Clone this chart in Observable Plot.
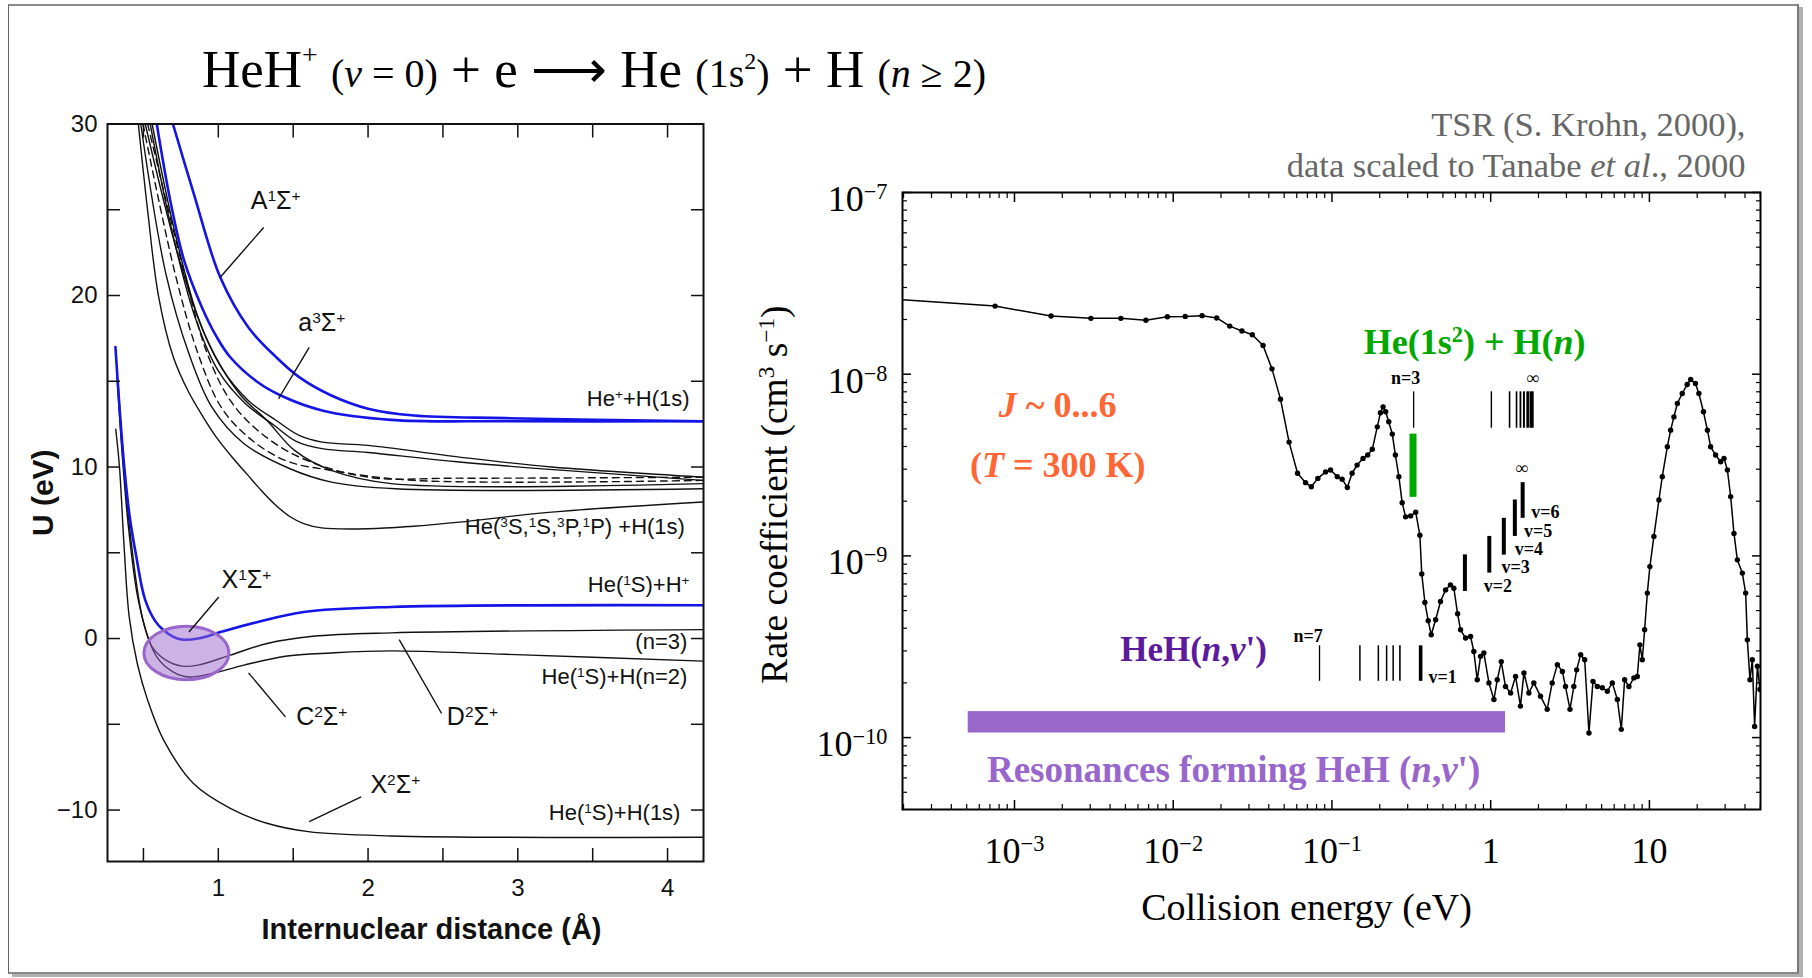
<!DOCTYPE html>
<html>
<head>
<meta charset="utf-8">
<script src="https://cdn.jsdelivr.net/npm/d3@7"></script>
<script src="https://cdn.jsdelivr.net/npm/@observablehq/plot@0.6"></script>
<style>
  html, body { margin: 0; padding: 0; background: #fff; }
  #page { position: relative; width: 1812px; height: 978px; overflow: hidden; background: #fff; }
  #box { position: absolute; left: 8px; top: 4px; width: 1788px; height: 966px;
         border-left: 1.5px solid #666; border-top: 2px solid #8a8a8a; border-right: 2px solid #777; border-bottom: 2px solid #888;
         box-shadow: 4px 3px 0 #b0b0b0; }
  #left { position: absolute; left: 0; top: 0; width: 740px; height: 978px; }
  #right { position: absolute; left: 740px; top: 0; width: 1072px; height: 978px; }
  #title { position: absolute; left: 202px; top: 43px; font-family: 'Liberation Serif', 'Times New Roman', serif;
           font-size: 53px; line-height: 53px; white-space: nowrap; color: #000; }
  #title .s { font-size: 40px; }
  #title sup { font-size: 0.52em; vertical-align: 0.85em; line-height: 0; }
  #title .s sup { font-size: 0.6em; vertical-align: 0.75em; }
</style>
</head>
<body>
<div id="page">
  <div id="box"></div>
  <div id="left"></div>
  <div id="right"></div>
  <div id="title">HeH<sup>+</sup> <span class="s">(<i>v</i> = 0)</span> + e ⟶ He <span class="s">(1s<sup>2</sup>)</span> + H <span class="s">(<i>n</i> ≥ 2)</span></div>
</div>
<script>
// ================= LEFT PANEL DATA: potential curves [r (Å), U (eV)] =================
const curveA1Sigma = [[0.697,30],[0.834,26.0],[1.013,21.06],[1.2,18.15],[1.387,16.4],[1.54,15.24],[1.755,14.17],[2.0,13.4],[2.307,13.0],[2.92,12.85],[4.24,12.67]];
const curvea3Sigma = [[0.589,30],[0.68,25.5],[0.773,22.0],[0.896,19.2],[0.988,17.6],[1.08,16.4],[1.264,14.94],[1.417,14.17],[1.693,13.3],[2.154,12.75],[2.92,12.67],[4.24,12.67]];
const curveB1 = [[0.558,30],[0.712,23.6],[0.865,18.73],[1.019,15.82],[1.2,13.88],[1.387,12.71],[1.54,11.84],[1.693,11.45],[2.0,11.26],[2.61,10.58],[3.227,10.0],[4.24,9.41]];
const curveB2 = [[0.545,30],[0.70,23.4],[0.85,18.6],[1.0,15.6],[1.18,13.7],[1.37,12.45],[1.52,11.5],[1.693,11.07],[2.0,10.85],[2.61,10.29],[4.24,9.22]];
const curveB3 = [[0.482,30],[0.65,21.26],[0.804,16.6],[0.957,13.49],[1.172,11.36],[1.479,9.9],[1.755,9.12],[2.184,8.73],[4.24,8.73]];
const curveB4 = [[0.512,30],[0.742,22.03],[0.927,17.37],[1.141,14.27],[1.325,12.71],[1.509,10.97],[1.755,9.8],[2.154,9.03],[4.24,9.03]];
const curveB5 = [[0.466,30],[0.53,24.8],[0.60,20.0],[0.70,16.4],[0.80,14.4],[0.90,12.9],[0.99,11.7],[1.09,10.6],[1.19,9.6],[1.29,8.6],[1.38,7.8],[1.48,7.1],[1.57,6.7],[1.69,6.45],[2.0,6.4],[2.3,6.55],[2.61,6.79],[3.227,7.37],[4.24,7.96]];
const curveD1 = [[0.528,30],[0.774,21.26],[0.927,16.6],[1.08,13.88],[1.264,12.13],[1.54,10.58],[2.0,9.41],[2.61,9.35],[4.24,9.41]];
const curveD2 = [[0.497,30],[0.712,21.26],[0.865,16.6],[1.019,13.49],[1.2,11.74],[1.448,10.38],[1.755,9.8],[2.307,9.22],[4.24,9.22]];
const curveX1Sigma = [[0.313,17.0],[0.34,13.5],[0.372,10.0],[0.41,7.0],[0.45,4.9],[0.51,2.3],[0.58,1.0],[0.635,0.48],[0.70,0.1],[0.758,-0.06],[0.865,0.0],[1.019,0.39],[1.264,0.97],[1.571,1.55],[2.154,1.84],[4.24,1.94]];
const curveD2Sigma = [[0.323,15.4],[0.36,10.5],[0.40,6.5],[0.466,2.23],[0.558,-0.49],[0.65,-1.26],[0.758,-1.61],[0.865,-1.55],[1.08,-0.97],[1.325,-0.29],[1.632,0.13],[2.154,0.33],[4.24,0.52]];
const curveC2Sigma = [[0.33,15.0],[0.37,10.0],[0.42,5.5],[0.497,1.07],[0.589,-1.07],[0.697,-1.94],[0.804,-2.24],[0.957,-2.04],[1.172,-1.55],[1.448,-1.03],[1.755,-0.84],[2.154,-0.72],[2.92,-0.92],[4.24,-1.32]];
const curveX2Sigma = [[0.315,12.2],[0.34,10.0],[0.37,5.5],[0.405,1.26],[0.46,-1.5],[0.528,-3.59],[0.635,-5.92],[0.834,-8.45],[1.08,-9.9],[1.325,-10.77],[1.601,-11.26],[2.154,-11.51],[4.24,-11.59]];

const stateLabels = ["A^{1}Σ^{+}", "a^{3}Σ^{+}", "X^{1}Σ^{+}", "C^{2}Σ^{+}", "D^{2}Σ^{+}", "X^{2}Σ^{+}"];
const stateLabelR = [1.383, 1.691, 1.188, 1.691, 2.697, 2.182];
const stateLabelU = [25.5, 18.4, 3.4, -4.6, -4.6, -8.55];
const leaderR1 = [1.303, 1.607, 1.003, 1.448, 2.491, 1.954];
const leaderU1 = [23.97, 16.98, 2.42, -4.57, -4.37, -9.23];
const leaderR2 = [1.013, 1.402, 0.804, 1.202, 2.208, 1.607];
const leaderU2 = [21.06, 13.98, 0.38, -2.0, -0.06, -10.68];

const limitLabels = ["He^{+}+H(1s)", "He(^{3}S,^{1}S,^{3}P,^{1}P) +H(1s)", "He(^{1}S)+H^{+}", "(n=3)", "He(^{1}S)+H(n=2)", "He(^{1}S)+H(1s)"];
const limitLabelR = [4.147, 4.116, 4.147, 4.132, 4.132, 4.086];
const limitLabelU = [13.98, 6.5, 3.10, -0.2, -2.24, -10.19];

const ellipseR = 0.787, ellipseU = -0.84;

const leftXTicks = [0.5, 1, 1.5, 2, 2.5, 3, 3.5, 4];
const leftXLabelTicks = [1, 2, 3, 4];
const leftXLabels = ["1", "2", "3", "4"];
const leftYTicks = [-10, -5, 0, 5, 10, 15, 20, 25, 30];
const leftYLabelTicks = [-10, 0, 10, 20, 30];
const leftYLabels = ["−10", "0", "10", "20", "30"];

// ================= RIGHT PANEL DATA =================
const rateE = [1.97e-4,7.55e-4,1.70e-3,3.03e-3,4.68e-3,6.73e-3,9.18e-3,0.0119,0.0152,0.0188,0.0227,0.0271,0.0315,0.0368,0.0419,0.0474,0.0537,0.0607,0.0682,0.0741,0.0815,0.0912,0.098,0.108,0.116,0.125,0.134,0.144,0.157,0.168,0.1795,0.193,0.202,0.210,0.218,0.228,0.240,0.251,0.264,0.277,0.291,0.313,0.337,0.358,0.368,0.385,0.404,0.422,0.450,0.483,0.520,0.558,0.586,0.619,0.646,0.695,0.747,0.783,0.823,0.863,0.906,0.975,1.048,1.10,1.166,1.24,1.335,1.435,1.54,1.62,1.74,1.87,2.06,2.27,2.44,2.63,2.83,2.96,3.16,3.34,3.48,3.69,3.91,4.16,4.41,4.70,5.05,5.43,5.84,6.28,6.65,6.98,7.43,7.98,8.39,8.71,9.02,9.33,9.70,10.07,10.67,11.48,12.05,12.97,13.61,14.27,15.0,16.1,17.3,18.2,19.5,20.5,21.9,23.2,24.3,26.1,28.1,29.5,31.0,32.5,34.1,35.8,38.5,40.4,41.4,43.0,44.5,46.0,47.9,49.7];
const rateK = [2.57e-8,2.37e-8,2.09e-8,2.03e-8,2.03e-8,1.98e-8,2.07e-8,2.08e-8,2.10e-8,2.04e-8,1.84e-8,1.73e-8,1.65e-8,1.44e-8,1.07e-8,7.29e-9,4.23e-9,2.85e-9,2.53e-9,2.40e-9,2.67e-9,2.90e-9,2.97e-9,2.73e-9,2.64e-9,2.38e-9,2.85e-9,3.16e-9,3.44e-9,3.59e-9,3.86e-9,5.13e-9,6.13e-9,6.61e-9,6.21e-9,5.47e-9,4.68e-9,3.59e-9,2.73e-9,1.96e-9,1.64e-9,1.66e-9,1.74e-9,1.30e-9,7.96e-10,5.54e-10,4.40e-10,3.68e-10,4.45e-10,5.61e-10,6.50e-10,6.93e-10,6.64e-10,4.80e-10,3.92e-10,3.53e-10,3.60e-10,2.98e-10,2.08e-10,2.80e-10,2.92e-10,2.00e-10,1.62e-10,2.08e-10,2.62e-10,1.91e-10,1.76e-10,2.17e-10,1.49e-10,2.27e-10,1.76e-10,2.00e-10,1.69e-10,1.43e-10,2.00e-10,2.52e-10,2.31e-10,1.91e-10,1.43e-10,1.91e-10,2.36e-10,2.86e-10,2.68e-10,1.06e-10,2.04e-10,1.91e-10,1.88e-10,1.80e-10,2.00e-10,1.62e-10,1.11e-10,2.08e-10,1.91e-10,2.13e-10,2.17e-10,3.24e-10,2.68e-10,3.92e-10,6.24e-10,8.73e-10,1.28e-9,2.03e-9,2.73e-9,3.99e-9,4.92e-9,5.82e-9,6.90e-9,7.83e-9,8.78e-9,9.35e-9,8.89e-9,7.83e-9,6.21e-9,4.92e-9,3.99e-9,3.59e-9,3.30e-9,3.44e-9,2.97e-9,2.12e-9,1.33e-9,9.51e-10,8.04e-10,6.24e-10,3.45e-10,2.08e-10,2.68e-10,1.15e-10,2.47e-10,1.84e-10];

// He(1s2)+H(n) thresholds (n = 3 ... infinity)
const nLevelE = [0.327, 1.01, 1.315, 1.455, 1.54, 1.62, 1.71, 1.81];
const nLevelWidth = [1.3, 1.4, 1.6, 1.6, 1.8, 2.0, 2.6, 4.2];
const nLevelK = [5.04e-9, 8.0e-9];
const greenBarE = 0.324, greenBarK = [2.10e-9, 4.68e-9];
// HeH(n, v') vibrational thresholds
const vBarE = [0.688, 0.98, 1.21, 1.42, 1.59];
const vBarK1 = [6.37e-10, 8.04e-10, 1.01e-9, 1.28e-9, 1.61e-9];
const vBarK2 = [1.013e-9, 1.28e-9, 1.61e-9, 2.03e-9, 2.53e-9];
const vLabels = ["v=2", "v=3", "v=4", "v=5", "v=6"];
const vLabelE = [0.905, 1.171, 1.42, 1.62, 1.80];
const vLabelK = [6.84e-10, 8.63e-10, 1.089e-9, 1.371e-9, 1.73e-9];
// HeH(n) series for v'=1 (n = 7 ...)
const hehE = [0.0835, 0.150, 0.196, 0.221, 0.243, 0.268, 0.362];
const hehWidth = [1.3, 1.5, 1.5, 1.5, 1.5, 1.6, 3.6];
const hehK = [2.04e-10, 3.20e-10];
const resonanceBarE = [5.11e-4, 1.24], resonanceBarK = [1.06e-10, 1.39e-10];

const xMajorR = [1e-3, 1e-2, 1e-1, 1, 10];
const xMajorRLabels = ["10^{−3}", "10^{−2}", "10^{−1}", "1", "10"];
const yMajorR = [1e-10, 1e-9, 1e-8, 1e-7];
const yMajorRLabels = ["10^{−10}", "10^{−9}", "10^{−8}", "10^{−7}"];

// ================= helpers =================
function minorLog(lo, hi) {
  const out = [];
  for (let e = Math.floor(Math.log10(lo)); e <= Math.ceil(Math.log10(hi)); e++)
    for (let m = 2; m <= 9; m++) { const v = m * Math.pow(10, e); if (v > lo && v < hi) out.push(v); }
  return out;
}
const ellipseSymbol = {
  draw(ctx, size) {
    const rx = Math.sqrt(size / Math.PI), ry = rx * 0.63, k = 0.5523;
    ctx.moveTo(rx, 0);
    ctx.bezierCurveTo(rx, ry * k, rx * k, ry, 0, ry);
    ctx.bezierCurveTo(-rx * k, ry, -rx, ry * k, -rx, 0);
    ctx.bezierCurveTo(-rx, -ry * k, -rx * k, -ry, 0, -ry);
    ctx.bezierCurveTo(rx * k, -ry, rx, -ry * k, rx, 0);
    ctx.closePath();
  }
};
function richify(root) {
  root.querySelectorAll("text").forEach(t => {
    const kids = t.querySelectorAll("tspan");
    const targets = kids.length ? Array.from(kids) : [t];
    for (const el of targets) {
      const s = el.textContent;
      if (!/\^\{|\*/.test(s)) continue;
      el.textContent = "";
      const re = /\^\{([^}]*)\}|\*([^*]*)\*|([^^*]+)/g;
      let m;
      while ((m = re.exec(s))) {
        const ts = document.createElementNS("http://www.w3.org/2000/svg", "tspan");
        if (m[1] !== undefined) { ts.textContent = m[1]; ts.setAttribute("baseline-shift", "super"); ts.setAttribute("font-size", "62%"); }
        else if (m[2] !== undefined) { ts.textContent = m[2]; ts.setAttribute("font-style", "italic"); }
        else ts.textContent = m[3];
        el.appendChild(ts);
      }
    }
  });
}

// ================= LEFT PANEL =================
const xy = {x: d => d[0], y: d => d[1], curve: "catmull-rom", clip: true};
const leaders = stateLabels.map((_, i) => ({r1: leaderR1[i], u1: leaderU1[i], r2: leaderR2[i], u2: leaderU2[i]}));
const stateTable = stateLabels.map((t, i) => ({t, r: stateLabelR[i], u: stateLabelU[i]}));
const limitTable = limitLabels.map((t, i) => ({t, r: limitLabelR[i], u: limitLabelU[i]}));
const blue = "#1414e6";

const leftPlot = Plot.plot({
  width: 740, height: 978,
  marginLeft: 107, marginRight: 37, marginTop: 123.5, marginBottom: 117,
  style: {fontFamily: "'Liberation Sans', Arial, sans-serif", background: "transparent", overflow: "visible", color: "#111"},
  x: {domain: [0.26, 4.24]},
  y: {domain: [-13, 30]},
  marks: [
    ...[curveB1, curveB2, curveB3, curveB4, curveB5].map(c => Plot.line(c, {...xy, stroke: "#111", strokeWidth: 1.4})),
    ...[curveD1, curveD2].map(c => Plot.line(c, {...xy, stroke: "#111", strokeWidth: 1.4, strokeDasharray: "7,5"})),
    ...[curveD2Sigma, curveC2Sigma, curveX2Sigma].map(c => Plot.line(c, {...xy, stroke: "#111", strokeWidth: 1.4})),
    ...[curveA1Sigma, curvea3Sigma, curveX1Sigma].map(c => Plot.line(c, {...xy, stroke: blue, strokeWidth: 2.6})),
    Plot.dot([{r: ellipseR, u: ellipseU}], {x: "r", y: "u", r: 42.5, symbol: ellipseSymbol, fill: "#9966cc", fillOpacity: 0.5, stroke: "#9966cc", strokeWidth: 3}),
    Plot.link(leaders, {x1: "r1", y1: "u1", x2: "r2", y2: "u2", stroke: "#111", strokeWidth: 1.4}),
    Plot.text(stateTable, {x: "r", y: "u", text: "t", fontSize: 25, fill: "#111", textAnchor: "middle", lineAnchor: "middle"}),
    Plot.text(limitTable, {x: "r", y: "u", text: "t", fontSize: 22, fill: "#111", textAnchor: "end", lineAnchor: "middle"}),
    Plot.frame({stroke: "#111", strokeWidth: 2}),
    Plot.axisX(leftXTicks, {anchor: "bottom", tickSize: -13, tickFormat: () => "", strokeWidth: 1.5, label: null}),
    Plot.axisX(leftXTicks, {anchor: "top", tickSize: -13, tickFormat: () => "", strokeWidth: 1.5, label: null}),
    Plot.axisY(leftYTicks, {anchor: "left", tickSize: -13, tickFormat: () => "", strokeWidth: 1.5, label: null}),
    Plot.axisY(leftYTicks, {anchor: "right", tickSize: -13, tickFormat: () => "", strokeWidth: 1.5, label: null}),
    Plot.axisX(leftXLabelTicks, {anchor: "bottom", tickSize: 0, tickPadding: 17, fontSize: 24, tickFormat: d => leftXLabels[leftXLabelTicks.indexOf(d)], label: null}),
    Plot.axisY(leftYLabelTicks, {anchor: "left", tickSize: 0, tickPadding: 10, fontSize: 24, tickFormat: d => leftYLabels[leftYLabelTicks.indexOf(d)], label: null}),
    Plot.text(["U (eV)"], {text: d => d, frameAnchor: "left", dx: -64.5, dy: 0, rotate: -90, textAnchor: "middle", lineAnchor: "middle", fontSize: 30, fontWeight: "bold", fill: "#111"}),
    Plot.text(["Internuclear distance (Å)"], {text: d => d, frameAnchor: "bottom", dx: 26, dy: 68, textAnchor: "middle", lineAnchor: "middle", fontSize: 29, fontWeight: "bold", fill: "#111"})
  ]
});
document.getElementById("left").appendChild(leftPlot);
richify(leftPlot);

// ================= RIGHT PANEL =================
const rate = rateE.map((E, i) => ({E, k: rateK[i]}));
const nLevels = nLevelE.map((E, i) => ({E, w: nLevelWidth[i], k1: nLevelK[0], k2: nLevelK[1]}));
const vBars = vBarE.map((E, i) => ({E, k1: vBarK1[i], k2: vBarK2[i]}));
const hehLevels = hehE.map((E, i) => ({E, w: hehWidth[i], k1: hehK[0], k2: hehK[1]}));
const vLabelTable = vLabels.map((t, i) => ({t, E: vLabelE[i], k: vLabelK[i]}));
const xMinorR = minorLog(1.97e-4, 50.1);
const yMinorR = minorLog(4.02e-11, 1e-7);

const orangeText = [{t: "*J* ~ 0...6", E: 1.87e-3, k: 6.76e-9}, {t: "(*T* = 300 K)", E: 1.87e-3, k: 3.16e-9}];
const greenText = [{t: "He(1s^{2}) + H(*n*)", E: 0.792, k: 1.50e-8}];
const smallCentered = [{t: "n=3", E: 0.291, k: 9.5e-9}, {t: "∞", E: 1.85, k: 9.5e-9}, {t: "∞", E: 1.58, k: 3.05e-9}];
const smallStart = [...vLabelTable, {t: "v=1", E: 0.406, k: 2.16e-10}, {t: "n=7", E: 0.0573, k: 3.63e-10}];
const hehText = [{t: "HeH(*n*,*v*')", E: 0.01343, k: 3.05e-10}];
const resText = [{t: "Resonances forming HeH (*n*,*v*')", E: 0.024, k: 6.59e-11}];

const rightPlot = Plot.plot({
  width: 1072, height: 978,
  marginLeft: 162, marginRight: 52, marginTop: 192, marginBottom: 169,
  style: {fontFamily: "'Liberation Serif', 'Times New Roman', serif", background: "transparent", overflow: "visible", color: "#000"},
  x: {type: "log", domain: [1.97e-4, 50.1]},
  y: {type: "log", domain: [4.02e-11, 1e-7]},
  marks: [
    Plot.rect([{e1: resonanceBarE[0], e2: resonanceBarE[1], k1: resonanceBarK[0], k2: resonanceBarK[1]}], {x1: "e1", x2: "e2", y1: "k1", y2: "k2", fill: "#9966cc"}),
    Plot.ruleX([{E: greenBarE, k1: greenBarK[0], k2: greenBarK[1]}], {x: "E", y1: "k1", y2: "k2", stroke: "#00a800", strokeWidth: 7}),
    Plot.ruleX(nLevels, {x: "E", y1: "k1", y2: "k2", stroke: "#000", strokeWidth: "w"}),
    Plot.ruleX(vBars, {x: "E", y1: "k1", y2: "k2", stroke: "#000", strokeWidth: 4}),
    Plot.ruleX(hehLevels, {x: "E", y1: "k1", y2: "k2", stroke: "#000", strokeWidth: "w"}),
    Plot.line(rate, {x: "E", y: "k", stroke: "#000", strokeWidth: 1.5, clip: true}),
    Plot.dot(rate.slice(1), {x: "E", y: "k", r: 2.7, fill: "#000", clip: true}),
    Plot.text(orangeText, {x: "E", y: "k", text: "t", fill: "#ff6633", fontSize: 36, fontWeight: "bold", lineAnchor: "middle"}),
    Plot.text(greenText, {x: "E", y: "k", text: "t", fill: "#00a800", fontSize: 36, fontWeight: "bold", lineAnchor: "middle"}),
    Plot.text(smallCentered, {x: "E", y: "k", text: "t", fill: "#000", fontSize: 18, fontWeight: "bold", lineAnchor: "middle"}),
    Plot.text(smallStart, {x: "E", y: "k", text: "t", fill: "#000", fontSize: 18, fontWeight: "bold", textAnchor: "start", lineAnchor: "middle"}),
    Plot.text(hehText, {x: "E", y: "k", text: "t", fill: "#5c1a9c", fontSize: 35, fontWeight: "bold", lineAnchor: "middle"}),
    Plot.text(resText, {x: "E", y: "k", text: "t", fill: "#9966cc", fontSize: 37, fontWeight: "bold", lineAnchor: "middle"}),
    Plot.frame({stroke: "#000", strokeWidth: 2}),
    ...["bottom", "top"].map(a => Plot.axisX(xMajorR, {anchor: a, tickSize: -9, tickFormat: () => "", strokeWidth: 1.5, label: null})),
    ...["bottom", "top"].map(a => Plot.axisX(xMinorR, {anchor: a, tickSize: -5, tickFormat: () => "", strokeWidth: 1.2, label: null})),
    ...["left", "right"].map(a => Plot.axisY(yMajorR, {anchor: a, tickSize: -9, tickFormat: () => "", strokeWidth: 1.5, label: null})),
    ...["left", "right"].map(a => Plot.axisY(yMinorR, {anchor: a, tickSize: -5, tickFormat: () => "", strokeWidth: 1.2, label: null})),
    Plot.axisX(xMajorR, {anchor: "bottom", tickSize: 0, tickPadding: 28, fontSize: 36, tickFormat: d => xMajorRLabels[xMajorR.indexOf(d)], label: null}),
    Plot.axisY(yMajorR, {anchor: "left", tickSize: 0, tickPadding: 15, fontSize: 36, dy: 7, tickFormat: d => yMajorRLabels[yMajorR.indexOf(d)], label: null}),
    Plot.text(["Rate coefficient (cm^{3} s^{−1})"], {text: d => d, frameAnchor: "left", dx: -128, dy: -6.5, rotate: -90, textAnchor: "middle", lineAnchor: "middle", fontSize: 37.5, fill: "#000"}),
    Plot.text(["Collision energy (eV)"], {text: d => d, frameAnchor: "bottom", dx: -25, dy: 98, textAnchor: "middle", lineAnchor: "middle", fontSize: 38, fill: "#000"}),
    Plot.text(["TSR (S. Krohn, 2000),"], {text: d => d, frameAnchor: "top-right", dx: -15, dy: -68, textAnchor: "end", lineAnchor: "middle", fontSize: 34.5, fill: "#666"}),
    Plot.text(["data scaled to Tanabe *et al*., 2000"], {text: d => d, frameAnchor: "top-right", dx: -15, dy: -27, textAnchor: "end", lineAnchor: "middle", fontSize: 34.5, fill: "#666"})
  ]
});
document.getElementById("right").appendChild(rightPlot);
richify(rightPlot);
</script>
</body>
</html>
